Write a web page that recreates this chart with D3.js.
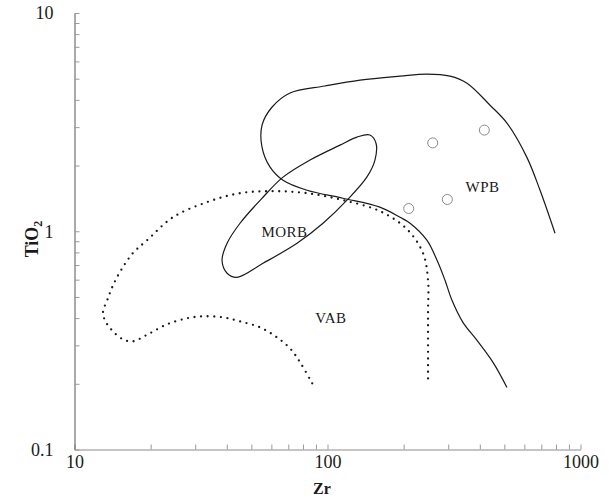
<!DOCTYPE html>
<html>
<head>
<meta charset="utf-8">
<script src="https://cdn.jsdelivr.net/npm/d3@7/dist/d3.min.js"></script>
<style>
  html, body { margin: 0; padding: 0; background: #fff; }
  svg { display: block; }
  text { font-family: "Liberation Serif", "Times New Roman", serif; fill: #1a1a1a; }
</style>
</head>
<body>
<svg id="chart" width="609" height="499"></svg>
<script>
// ---- data (Zr ppm, TiO2 wt%) ----
const xTicks = [10,20,30,40,50,60,70,80,90,100,200,300,400,500,600,700,800,900,1000];
const yTicks = [0.1,0.2,0.3,0.4,0.5,0.6,0.7,0.8,0.9,1,2,3,4,5,6,7,8,9,10];
const xTickLabels = [10, 100, 1000];
const yTickLabels = [0.1, 1, 10];

// WPB field boundary (open solid curve)
const wpbZr = [512,451,390,343,310.5,291.4,271,247,212,193.5,161,115,83,66.7,59.3,55.1,55.1,60.3,71.1,97.7,134.5,193.5,247,305,356,439,512,614,692,793];
const wpbTi = [0.1925,0.2506,0.316,0.3825,0.4826,0.596,0.736,0.910,1.088,1.159,1.289,1.417,1.542,1.714,1.966,2.43,3.06,3.70,4.30,4.63,4.93,5.14,5.25,5.14,4.77,3.78,3.13,2.18,1.54,0.979];

// MORB field (closed solid curve)
const morbZr = [147,155.5,154,143,119.4,96,75.8,55.6,43.9,40.1,38.3,40.1,45.1,55.6,66.7,85.3,112,130.8];
const morbTi = [2.76,2.53,2.12,1.77,1.388,1.088,0.881,0.713,0.615,0.642,0.736,0.881,1.088,1.432,1.77,2.12,2.48,2.70];

// VAB field (open dotted curve)
const vabZr = [87,77.9,71.1,63.1,54.1,45.1,38.6,32.2,27.8,23.2,19.5,17.0,15.55,14.07,13.2,12.96,13.56,14.2,15.27,17.0,19.35,24.5,33.4,45.1,60.9,83.0,115.2,161.3,206.2,238.5,249.7,249.7,249.7,249.7];
const vabTi = [0.201,0.251,0.2905,0.3264,0.3627,0.3865,0.4032,0.4075,0.399,0.3745,0.337,0.313,0.3196,0.3514,0.3906,0.425,0.493,0.565,0.6625,0.793,0.909,1.159,1.359,1.494,1.526,1.494,1.388,1.235,1.021,0.793,0.596,0.434,0.300,0.205];

// sample points
const sampleZr = [260.5, 416.8, 297.6, 209.4];
const sampleTi = [2.54, 2.907, 1.398, 1.271];

// field labels
const fieldNames = ["MORB", "WPB", "VAB"];
const fieldZr = [67.6, 410, 103.2];
const fieldTi = [0.99, 1.592, 0.399];

// ---- drawing ----
const svg = d3.select("#chart");
const x = d3.scaleLog().domain([10, 1000]).range([74.5, 580.5]);
const y = d3.scaleLog().domain([0.1, 10]).range([449.5, 13]);

const fmtX = d => xTickLabels.includes(d) ? String(d) : "";
const fmtY = d => yTickLabels.includes(d) ? String(d) : "";

const gx = svg.append("g").attr("transform", `translate(0,${y(0.1)})`)
  .call(d3.axisBottom(x).tickValues(xTicks).tickFormat(fmtX).tickSizeInner(-5).tickSizeOuter(0).tickPadding(6));
gx.select(".domain").attr("stroke", "#8a8a8a").attr("stroke-width", 1);
gx.selectAll(".tick line").attr("stroke", "#9a9a9a");
gx.selectAll(".tick text").attr("font-size", 18).attr("fill", "#1a1a1a")
  .attr("font-family", "Liberation Serif");

const gy = svg.append("g").attr("transform", `translate(${x(10)},0)`)
  .call(d3.axisLeft(y).tickValues(yTicks).tickFormat(fmtY).tickSizeInner(-5).tickSizeOuter(0).tickPadding(21));
gy.select(".domain").attr("stroke", "#555").attr("stroke-width", 1);
gy.selectAll(".tick line").attr("stroke", "#9a9a9a");
gy.selectAll(".tick text").attr("font-size", 18).attr("fill", "#1a1a1a")
  .attr("font-family", "Liberation Serif");

// axis titles
svg.append("text").attr("x", 322).attr("y", 494).attr("text-anchor", "middle")
  .attr("font-size", 16).attr("font-weight", "bold").text("Zr");
const yt = svg.append("text").attr("transform", "translate(38,239) rotate(-90)")
  .attr("text-anchor", "middle").attr("font-size", 18).attr("font-weight", "bold");
yt.append("tspan").text("TiO");
yt.append("tspan").attr("font-size", 12).attr("dy", 4).text("2");

const toPts = (xs, ys) => xs.map((v, i) => [x(v), y(ys[i])]);

const lineOpen = d3.line().curve(d3.curveCatmullRom.alpha(0.5));
const lineClosed = d3.line().curve(d3.curveCatmullRomClosed.alpha(0.5));

svg.append("path").attr("d", lineOpen(toPts(wpbZr, wpbTi)))
  .attr("fill", "none").attr("stroke", "#1a1a1a").attr("stroke-width", 1.2);
svg.append("path").attr("d", lineClosed(toPts(morbZr, morbTi)))
  .attr("fill", "none").attr("stroke", "#1a1a1a").attr("stroke-width", 1.2);
svg.append("path").attr("d", lineOpen(toPts(vabZr, vabTi)))
  .attr("fill", "none").attr("stroke", "#1a1a1a").attr("stroke-width", 2.3)
  .attr("stroke-linecap", "round").attr("stroke-dasharray", "0 6.6");

svg.selectAll("circle.sample").data(sampleZr).enter().append("circle")
  .attr("class", "sample")
  .attr("cx", (d, i) => x(d)).attr("cy", (d, i) => y(sampleTi[i])).attr("r", 5)
  .attr("fill", "none").attr("stroke", "#8a8a8a").attr("stroke-width", 1);

svg.selectAll("text.field").data(fieldNames).enter().append("text")
  .attr("class", "field")
  .attr("x", (d, i) => x(fieldZr[i])).attr("y", (d, i) => y(fieldTi[i]))
  .attr("text-anchor", "middle").attr("dominant-baseline", "central")
  .attr("font-size", 15).attr("letter-spacing", 0.5).text(d => d);
</script>
</body>
</html>
